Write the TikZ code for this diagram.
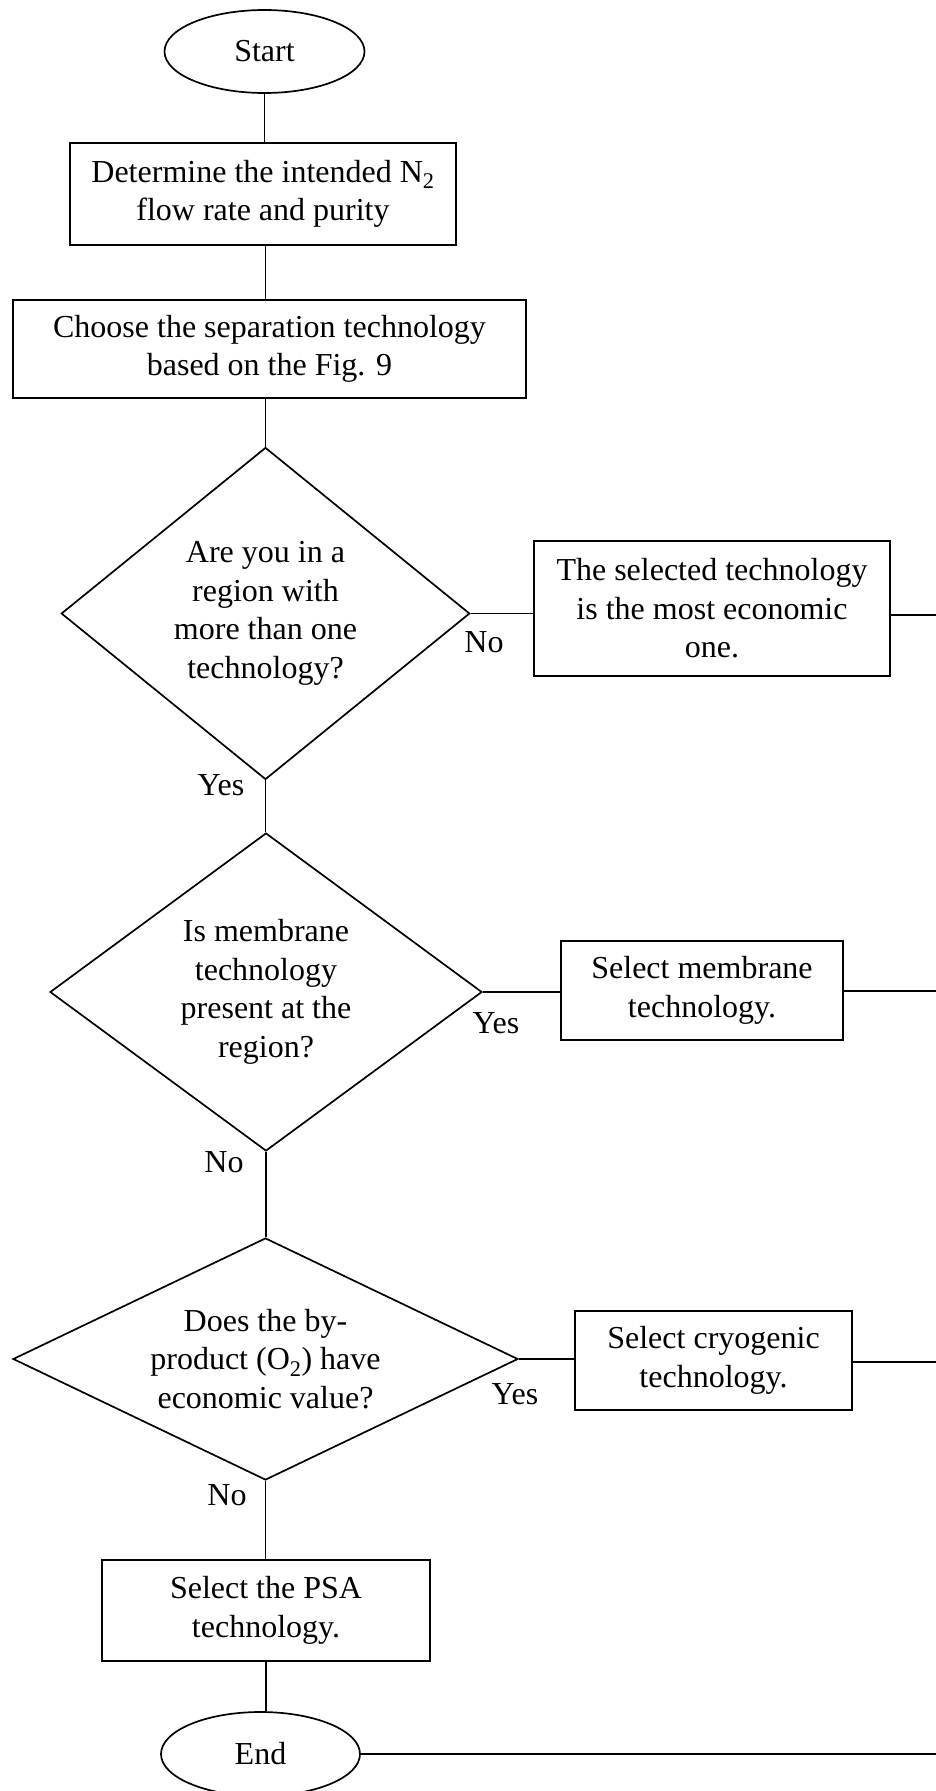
\documentclass[tikz,border=0pt]{standalone}
\usepackage{fontspec}
\setmainfont{Liberation Serif}
\usetikzlibrary{shapes.geometric}
\tikzset{
  txt/.style={font=\fontsize{32}{38.5}\selectfont, align=center, inner sep=0pt},
  base/.style={txt, draw, line width=1.7pt},
  terminal/.style={base, ellipse},
  procbox/.style={base, rectangle},
  decision/.style={base, diamond},
  lbl/.style={txt, anchor=base},
  conn/.style={line width=1.7pt},
}
\begin{document}
\begin{tikzpicture}[x=1pt,y=-1pt]
\useasboundingbox (0,0) rectangle (936,1791);
\node[terminal, minimum width=200pt, minimum height=83pt] (start) at (264.5,51.5) {Start};
\node[procbox, minimum width=386pt, minimum height=102pt] (b1) at (263,194) {Determine the intended N\textsubscript{2}\\flow rate and purity};
\node[procbox, minimum width=513pt, minimum height=98pt] (b2) at (269.5,349) {Choose the separation technology\\based on the Fig. 9};
\node[decision, aspect=1.23, minimum width=408.5pt, minimum height=332pt] (d1) at (265.5,613.5) {Are you in a\\region with\\more than one\\technology?};
\node[procbox, minimum width=356pt, minimum height=135pt] (b3) at (712,608.5) {The selected technology\\is the most economic\\one.};
\node[decision, aspect=1.36, minimum width=432pt, minimum height=318pt] (d2) at (266,992) {Is membrane\\technology\\present at the\\region?};
\node[procbox, minimum width=282pt, minimum height=99pt] (b4) at (702,990.5) {Select membrane\\technology.};
\node[decision, aspect=2.1, minimum width=505pt, minimum height=242pt] (d3) at (265.5,1359) {Does the by-\\product (O\textsubscript{2}) have\\economic value?};
\node[procbox, minimum width=277pt, minimum height=99pt] (b5) at (713.5,1360.5) {Select cryogenic\\technology.};
\node[procbox, minimum width=328pt, minimum height=101pt] (b6) at (266,1610.5) {Select the PSA\\technology.};
\node[terminal, minimum width=199pt, minimum height=84pt] (end) at (260.5,1754) {End};

\coordinate (r1) at (936,615);
\coordinate (r2) at (936,991);
\coordinate (r3) at (936,1362);
\coordinate (r4) at (936,1754);

\draw[conn] (start.south) -- (start.south |- b1.north);
\draw[conn] (d1.north |- b1.south) -- (d1.north |- b2.north);
\draw[conn] (d1.north |- b2.south) -- (d1.north);
\draw[conn] (d1.south) -- (d1.south |- d2.north);
\draw[conn] (d2.south) -- (d2.south |- d3.north);
\draw[conn] (d3.south) -- (d3.south |- b6.north);
\draw[conn] (b6.south) -- (b6.south |- end.north);

\draw[conn] (d1.east) -- (d1.east -| b3.west);
\draw[conn] (b3.east |- r1) -- (r1);
\draw[conn] (d2.east) -- (d2.east -| b4.west);
\draw[conn] (b4.east |- r2) -- (r2);
\draw[conn] (d3.east) -- (d3.east -| b5.west);
\draw[conn] (b5.east |- r3) -- (r3);
\draw[conn] (end.east) -- (r4);

\node[lbl] (lno1) at (484,652) {No};
\node[lbl] (lyes1) at (221,795) {Yes};
\node[lbl] (lyes2) at (496,1033) {Yes};
\node[lbl] (lno2) at (224,1172) {No};
\node[lbl] (lyes3) at (515,1404) {Yes};
\node[lbl] (lno3) at (227,1505) {No};
\end{tikzpicture}
\end{document}
